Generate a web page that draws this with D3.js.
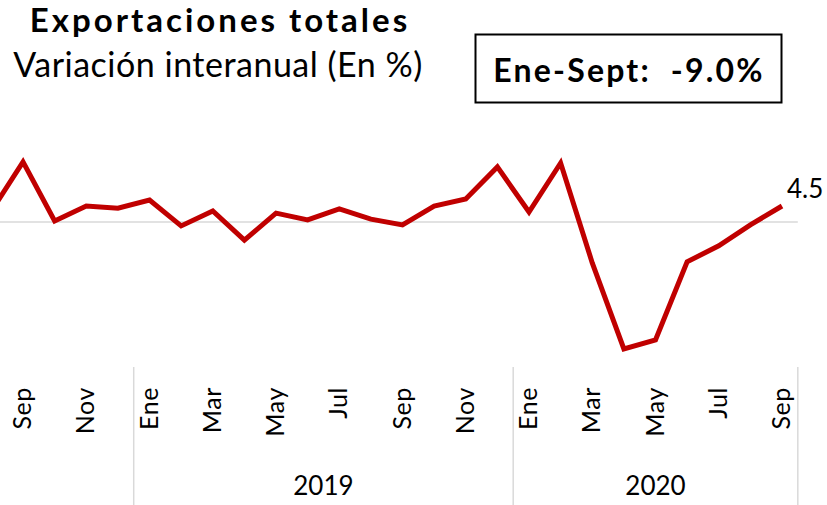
<!DOCTYPE html>
<html>
<head>
<meta charset="utf-8">
<script src="https://cdn.jsdelivr.net/npm/d3@7"></script>
<style>
  body { margin: 0; background: #fff; }
  svg text { font-family: Lato, "Open Sans", sans-serif; fill: #000; }
</style>
</head>
<body>
<div id="chart"></div>
<script>
// Monthly data, Aug 2018 - Sep 2020
const months = ['Ago','Sep','Oct','Nov','Dic',
  'Ene','Feb','Mar','Abr','May','Jun','Jul','Ago','Sep','Oct','Nov','Dic',
  'Ene','Feb','Mar','Abr','May','Jun','Jul','Ago','Sep'];
const years = ['2018','2018','2018','2018','2018',
  '2019','2019','2019','2019','2019','2019','2019','2019','2019','2019','2019','2019',
  '2020','2020','2020','2020','2020','2020','2020','2020','2020'];
const values = [3.1, 16.9, 0.3, 4.5, 3.9,
  6.2, -1.1, 3.1, -5.1, 2.5, 0.6, 3.7, 0.8, -0.8, 4.5, 6.5, 15.5,
  2.8, 16.6, -11.5, -35.7, -33.2, -11.2, -6.7, -0.8, 4.5];
const yearLabels = ['2019', '2020'];

const width = 827, height = 505;

const svg = d3.select('#chart').append('svg')
  .attr('width', width)
  .attr('height', height);

const x = d3.scaleLinear()
  .domain([0, values.length - 1])
  .range([-8.6, 782]);

const y = d3.scaleLinear()
  .domain([-40, 20])
  .range([364.2, 150.9]);

const step = x(1) - x(0);

// zero line
svg.append('line')
  .attr('x1', 0).attr('x2', x(values.length - 1) + step / 2)
  .attr('y1', y(0)).attr('y2', y(0))
  .attr('stroke', '#d9d9d9')
  .attr('stroke-width', 1.5);

// series
const line = d3.line()
  .x((d, i) => x(i))
  .y(d => y(d));

svg.append('path')
  .datum(values)
  .attr('d', line)
  .attr('fill', 'none')
  .attr('stroke', '#c00000')
  .attr('stroke-width', 5)
  .attr('stroke-linejoin', 'miter');

// last value label
const last = values.length - 1;
svg.append('text')
  .attr('x', x(last) + 5)
  .attr('y', y(values[last]) - 8)
  .attr('font-size', 26)
  .text(values[last].toFixed(1));

// month ticks, every other month
svg.append('g').selectAll('text')
  .data(months.map((m, i) => ({m, i})).filter(d => d.i % 2 === 1))
  .join('text')
    .attr('transform', d => `translate(${x(d.i) + 8},387) rotate(-90)`)
    .attr('text-anchor', 'end')
    .attr('font-size', 25)
    .attr('letter-spacing', 0.6)
    .text(d => d.m);

// year separators
const bounds = [];
years.forEach((yr, i) => {
  if (i > 0 && years[i - 1] !== yr) bounds.push(x(i) - step / 2);
});
bounds.push(x(last) + step / 2);

svg.append('g').selectAll('line')
  .data(bounds)
  .join('line')
    .attr('x1', d => d).attr('x2', d => d)
    .attr('y1', 367).attr('y2', 505)
    .attr('stroke', '#d9d9d9')
    .attr('stroke-width', 1.5);

svg.append('g').selectAll('text')
  .data(yearLabels)
  .join('text')
    .attr('x', (d, i) => (bounds[i] + bounds[i + 1]) / 2)
    .attr('y', 495)
    .attr('text-anchor', 'middle')
    .attr('font-size', 26)
    .text(d => d);

// titles
svg.append('text')
  .attr('x', 220).attr('y', 32)
  .attr('text-anchor', 'middle')
  .attr('font-size', 33)
  .attr('font-weight', 'bold')
  .attr('letter-spacing', 3)
  .text('Exportaciones totales');

svg.append('text')
  .attr('x', 218).attr('y', 77)
  .attr('text-anchor', 'middle')
  .attr('font-size', 34)
  .attr('letter-spacing', 0.5)
  .text('Variación interanual (En %)');

// summary box
svg.append('rect')
  .attr('x', 475.5).attr('y', 34.5)
  .attr('width', 306).attr('height', 68)
  .attr('fill', '#fff')
  .attr('stroke', '#000')
  .attr('stroke-width', 2);

svg.append('text')
  .attr('x', 629).attr('y', 82)
  .attr('text-anchor', 'middle')
  .attr('font-size', 32)
  .attr('font-weight', 'bold')
  .attr('letter-spacing', 2.2)
  .style('white-space', 'pre')
  .text('Ene-Sept:  -9.0%');
</script>
</body>
</html>
